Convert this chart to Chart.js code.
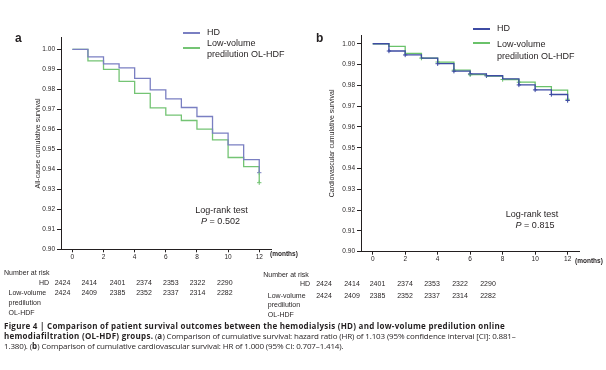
<!DOCTYPE html>
<html>
<head>
<meta charset="utf-8">
<script src="https://cdn.jsdelivr.net/npm/chart.js@4.4.0/dist/chart.umd.min.js"></script>
<style>
  body { margin: 0; width: 606px; height: 370px; overflow: hidden; position: relative; background: #fff;
         font-family: "Liberation Sans", Arial, sans-serif; color: #231f20; }
  canvas { position: absolute; top: 0; }
  .t { position: absolute; white-space: nowrap; line-height: 1; }
  .leg { position: absolute; height: 2px; width: 17px; }
  .cap { position: absolute; left: 4px; white-space: nowrap; font-family: "Open Sans", sans-serif; font-size: 8px; line-height: 10px; letter-spacing: -0.15px; }
  .cap b { letter-spacing: 0.26px; }
</style>
</head>
<body>
<canvas id="survA" width="300" height="270" style="left:0"></canvas>
<canvas id="survB" width="306" height="270" style="left:300px"></canvas>
<div id="texts"></div>
<script>
// Meses de seguimiento y ejes
const months = [0, 1, 2, 3, 4, 5, 6, 7, 8, 9, 10, 11, 12];
const xTicks = [0, 2, 4, 6, 8, 10, 12];
const yTicks = [0.90, 0.91, 0.92, 0.93, 0.94, 0.95, 0.96, 0.97, 0.98, 0.99, 1.00];

// (a) supervivencia global
const hdAllCause  = [1.000, 0.9962, 0.9927, 0.9907, 0.9855, 0.9797, 0.9752, 0.9709, 0.9664, 0.9581, 0.9522, 0.9448, 0.9383];
const hdfAllCause = [1.000, 0.9942, 0.9900, 0.9840, 0.9780, 0.9707, 0.9671, 0.9644, 0.9601, 0.9547, 0.9459, 0.9413, 0.9333];
// (b) supervivencia cardiovascular
const hdCardio  = [1.000, 0.9965, 0.9946, 0.9931, 0.9904, 0.9868, 0.9855, 0.9846, 0.9831, 0.9802, 0.9778, 0.9756, 0.9727];
const hdfCardio = [1.000, 0.9987, 0.9954, 0.9931, 0.9912, 0.9873, 0.9851, 0.9844, 0.9828, 0.9815, 0.9794, 0.9777, 0.9733];

// meses con marca de censura (+)
const censAllHD = [12];
const censAllHDF = [12];
const censCvHD = [1, 2, 4, 5, 6, 7, 9, 10, 11, 12];
const censCvHDF = [3, 4, 5, 6, 8, 9, 12];

// Number at risk
const riskHD  = [2424, 2414, 2401, 2374, 2353, 2322, 2290];
const riskHDF = [2424, 2409, 2385, 2352, 2337, 2314, 2282];

Chart.defaults.font.family = '"Liberation Sans", Arial, sans-serif';
Chart.defaults.color = '#231f20';

function survivalChart(id, o) {
  const pts = arr => months.map((m, i) => ({ x: m, y: arr[i] }));
  const marks = (arr, list) => list.map(m => ({ x: m, y: arr[m] }));
  const line = (label, arr, color) => ({
    label, data: pts(arr), borderColor: color, borderWidth: 1.3,
    stepped: 'before', pointRadius: 0, fill: false
  });
  const cross = (arr, list, color) => ({
    data: marks(arr, list), showLine: false, pointStyle: 'cross',
    pointRadius: 2.2, borderColor: color, borderWidth: 1
  });
  return new Chart(document.getElementById(id), {
    type: 'line',
    data: {
      datasets: [
        line('HD', o.hd, o.hdColor),
        line('Low-volume predilution OL-HDF', o.hdf, o.hdfColor),
        cross(o.hd, o.hdCens, o.hdColor),
        cross(o.hdf, o.hdfCens, o.hdfColor)
      ]
    },
    options: {
      responsive: false,
      animation: false,
      events: [],
      layout: { padding: o.pad },
      plugins: { legend: { display: false }, tooltip: { enabled: false } },
      scales: {
        x: {
          type: 'linear', min: o.xMin, max: o.xMax,
          afterBuildTicks: s => { s.ticks = xTicks.map(v => ({ value: v })); },
          afterFit: s => { s.height = o.xH; },
          grid: { drawOnChartArea: false, tickLength: 3, color: '#231f20' },
          border: { color: '#231f20', width: 1 },
          ticks: { autoSkip: false, maxRotation: 0, padding: 1, font: { size: 6.5 } }
        },
        y: {
          min: 0.9, max: o.yMax,
          afterBuildTicks: s => { s.ticks = yTicks.map(v => ({ value: v })); },
          afterFit: s => { s.width = o.yW; },
          grid: { drawOnChartArea: false, tickLength: 4, color: '#231f20' },
          border: { color: '#231f20', width: 1 },
          ticks: { autoSkip: false, padding: 2, font: { size: 6.5 }, callback: v => v.toFixed(2) },
          title: { display: true, text: o.yTitle, padding: 0, font: { size: 7 } }
        }
      }
    }
  });
}

survivalChart('survA', {
  hd: hdAllCause, hdf: hdfAllCause, hdCens: censAllHD, hdfCens: censAllHDF,
  hdColor: '#7a7fc2', hdfColor: '#74c474',
  pad: { left: 34, top: 37.7, right: 28.3, bottom: 0 },
  xH: 20.7, yW: 27, xMin: -0.73, xMax: 12.8, yMax: 1.0058,
  yTitle: 'All-cause cumulative survival'
});

survivalChart('survB', {
  hd: hdCardio, hdf: hdfCardio, hdCens: censCvHD, hdfCens: censCvHDF,
  hdColor: '#3d4ba3', hdfColor: '#6ac26a',
  pad: { left: 27.5, top: 35, right: 27, bottom: 0 },
  xH: 18.3, yW: 33.5, xMin: -0.72, xMax: 12.7, yMax: 1.0042,
  yTitle: 'Cardiovascular cumulative survival'
});

// textos sueltos (leyendas, log-rank, tablas)
const box = document.getElementById('texts');
function txt(s, x, y, size, extra) {
  const d = document.createElement('div');
  d.className = 't';
  d.innerHTML = s;
  d.style.fontSize = size + 'px';
  d.style.left = x + 'px';
  d.style.top = (y - size * 0.55) + 'px';
  if (extra) Object.assign(d.style, extra);
  box.appendChild(d);
  return d;
}
function leg(x, y, color) {
  const d = document.createElement('div');
  d.className = 'leg';
  d.style.left = x + 'px';
  d.style.top = Math.round(y - 1) + 'px';
  d.style.background = color;
  box.appendChild(d);
}

// etiquetas de panel
txt('a', 15, 39, 12, { fontWeight: 'bold' });
txt('b', 316, 39, 12, { fontWeight: 'bold' });

// leyendas
leg(183, 33, '#7a7fc2'); txt('HD', 207, 33, 9);
leg(183, 48, '#74c474'); txt('Low-volume', 207, 44, 9); txt('predilution OL-HDF', 207, 55, 9);
leg(473, 29, '#3d4ba3'); txt('HD', 497, 28.5, 9);
leg(473, 43, '#6ac26a'); txt('Low-volume', 497, 44.5, 9); txt('predilution OL-HDF', 497, 56.5, 9);

// log-rank
const center = { transform: 'translateX(-50%)' };
txt('Log-rank test', 221.5, 211, 9, center);
txt('<i>P</i> = 0.502', 220.5, 222.3, 9, center);
txt('Log-rank test', 532, 215, 9, center);
txt('<i>P</i> = 0.815', 535, 225.7, 9, center);

// unidades eje x
txt('(months)', 270, 255, 6.5, { fontWeight: 'bold' });
txt('(months)', 575, 261.7, 6.5, { fontWeight: 'bold' });

// Number at risk
const riskXA = [62.5, 89.2, 117.5, 144, 170.8, 197.5, 224.8];
const riskXB = [324, 352, 377.5, 405, 432, 460, 488];
const rs = 7;
function riskTable(x0, nY, hdY, hdRight, rowY, gap, xs) {
  txt('Number at risk', x0, nY, rs);
  txt('HD', hdRight, hdY, rs, { transform: 'translateX(-100%)' });
  txt('Low-volume', x0 + 4.5, rowY, rs);
  txt('predilution', x0 + 4.5, rowY + gap, rs);
  txt('OL-HDF', x0 + 4.5, rowY + 2 * gap, rs);
  riskHD.forEach((v, i) => txt(String(v), xs[i], hdY, rs, center));
  riskHDF.forEach((v, i) => txt(String(v), xs[i], rowY, rs, center));
}
riskTable(4, 272.7, 282.7, 49, 293.3, 10, riskXA);
riskTable(263.3, 275, 284.3, 310, 296, 9.2, riskXB);

// pie de figura
const cap = document.createElement('div');
cap.className = 'cap';
cap.style.top = '321px';
cap.innerHTML = '<b>Figure 4 | Comparison of patient survival outcomes between the hemodialysis (HD) and low-volume predilution online</b><br>' +
  '<b>hemodiafiltration (OL-HDF) groups.</b> (<b>a</b>) Comparison of cumulative survival: hazard ratio (HR) of 1.103 (95% confidence interval [CI]: 0.881–<br>' +
  '1.380). (<b>b</b>) Comparison of cumulative cardiovascular survival: HR of 1.000 (95% CI: 0.707–1.414).';
box.appendChild(cap);
</script>
</body>
</html>
